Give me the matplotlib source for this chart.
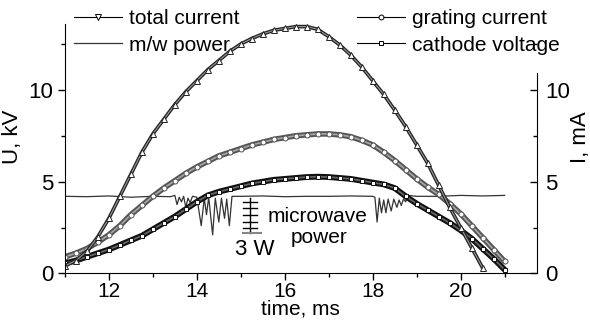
import numpy as np
import matplotlib
matplotlib.use('Agg')
import matplotlib.pyplot as plt
from matplotlib.ticker import MultipleLocator
from matplotlib.lines import Line2D

plt.rcParams['font.family'] = ['Liberation Sans', 'DejaVu Sans']

# total current (triangles), mA
t_total = [11.0, 11.25, 11.5, 11.75, 12.0, 12.25, 12.5, 12.75, 13.0, 13.25,
           13.5, 13.75, 14.0, 14.25, 14.5, 14.75, 15.0, 15.25, 15.5, 15.75,
           16.0, 16.25, 16.5, 16.75, 17.0, 17.25, 17.5, 17.75, 18.0, 18.25,
           18.5, 18.75, 19.0, 19.25, 19.5, 19.75, 20.0, 20.25, 20.5]
total_current = [0.4, 0.7, 1.2, 2.0, 3.0, 4.2, 5.4, 6.6, 7.6, 8.4,
                 9.2, 9.9, 10.5, 11.1, 11.6, 12.1, 12.5, 12.8, 13.05, 13.25,
                 13.35, 13.45, 13.45, 13.3, 12.9, 12.45, 11.9, 11.25, 10.5, 9.75,
                 8.9, 8.0, 7.0, 6.0, 4.8, 3.6, 2.5, 1.4, 0.3]

# grating current (circles) and cathode voltage (squares)
t_main = [11.0, 11.25, 11.5, 11.75, 12.0, 12.25, 12.5, 12.75, 13.0, 13.25,
          13.5, 13.75, 14.0, 14.25, 14.5, 14.75, 15.0, 15.25, 15.5, 15.75,
          16.0, 16.25, 16.5, 16.75, 17.0, 17.25, 17.5, 17.75, 18.0, 18.25,
          18.5, 18.75, 19.0, 19.25, 19.5, 19.75, 20.0, 20.25, 20.5, 20.75, 21.0]
grating_current = [0.9, 1.1, 1.35, 1.7, 2.1, 2.6, 3.2, 3.7, 4.2, 4.65,
                   5.05, 5.45, 5.8, 6.1, 6.4, 6.6, 6.8, 7.0, 7.15, 7.3,
                   7.4, 7.5, 7.55, 7.6, 7.6, 7.55, 7.45, 7.25, 7.0, 6.6,
                   6.15, 5.65, 5.15, 4.7, 4.3, 3.8, 3.25, 2.6, 1.95, 1.3, 0.65]
cathode_voltage = [0.55, 0.7, 0.9, 1.1, 1.3, 1.55, 1.8, 2.05, 2.4, 2.75,
                   3.1, 3.5, 3.9, 4.25, 4.45, 4.6, 4.75, 4.9, 5.0, 5.1,
                   5.15, 5.2, 5.25, 5.27, 5.25, 5.2, 5.15, 5.05, 4.95, 4.85,
                   4.65, 4.2, 3.8, 3.45, 3.1, 2.75, 2.35, 1.9, 1.35, 0.8, 0.2]

# microwave power trace (arbitrary offset)
t_mw = [11.0, 11.5, 12.0, 12.5, 13.0, 13.4, 13.5, 13.55, 13.6, 13.65, 13.7,
        13.75, 13.8, 13.85, 13.9, 14.0, 14.1, 14.17, 14.22, 14.27, 14.36,
        14.42, 14.5, 14.56, 14.63, 14.68, 14.74, 14.8, 15.0, 15.5, 16.0,
        16.5, 17.0, 17.5, 18.0, 18.05, 18.1, 18.15, 18.2, 18.25, 18.3,
        18.35, 18.42, 18.48, 18.55, 18.6, 18.65, 18.7, 18.75, 18.8, 19.0,
        19.5, 20.0, 20.5, 21.0]
mw_power = [4.2, 4.18, 4.22, 4.15, 4.2, 4.18, 4.25, 3.75, 4.15, 3.9, 4.2,
            3.6, 4.1, 3.85, 4.2, 4.15, 2.6, 4.1, 3.2, 4.15, 2.1,
            4.1, 2.8, 4.1, 3.0, 4.05, 2.6, 4.2, 4.2, 4.22, 4.18,
            4.2, 4.2, 4.22, 4.2, 4.15, 2.8, 4.1, 3.3, 4.0, 3.3,
            4.05, 3.4, 4.05, 3.6, 4.0, 3.7, 4.05, 3.9, 4.25, 4.2,
            4.2, 4.25, 4.22, 4.25]

# "3 W" scale bar
bar_x = 15.2
bar_top, bar_bottom = 4.1, 2.2
bar_ticks = [3.9, 3.57, 3.18, 2.8, 2.48]

fig = plt.figure(figsize=(5.9, 3.22), dpi=100)
ax = fig.add_axes([0.110, 0.151, 0.7997, 0.849])

ax.plot(t_mw, mw_power, color='#333333', lw=0.9)


def band(x, y, edge, inner, width, marker, ms):
    # dense overlapping hollow markers look like a thick band with a lighter core
    ax.plot(x, y, color=edge, lw=width, solid_capstyle='round', solid_joinstyle='round')
    ax.plot(x, y, color=inner, lw=width * 0.3, solid_joinstyle='round')
    ax.plot(x, y, ls='none', marker=marker, ms=ms, mfc='white', mec=edge, mew=0.7)


band(t_main, grating_current, '#555555', '#a8a8a8', 4.0, 'o', 3.6)
band(t_main, cathode_voltage, '#111111', '#666666', 4.2, 's', 3.2)
band(t_total, total_current, '#222222', '#9a9a9a', 2.6, '^', 3.8)

# scale bar
ax.plot([bar_x, bar_x], [bar_top, bar_bottom], color='black', lw=1)
for yt in bar_ticks:
    ax.plot([bar_x - 0.16, bar_x + 0.16], [yt, yt], color='black', lw=1)
ax.plot([bar_x - 0.16, bar_x + 0.27], [bar_bottom, bar_bottom], color='#888888', lw=1.5)

ax.text(15.31, 1.28, '3 W', fontsize=16, ha='center', va='center')
ax.text(16.74, 3.08, 'microwave', fontsize=15, ha='center', va='center')
ax.text(16.79, 1.93, 'power', fontsize=15, ha='center', va='center')

ax.set_xlim(11, 21.73)
ax.set_ylim(0, 14.9)
ax.spines['top'].set_visible(False)
ax.spines['right'].set_visible(False)
ax.spines['left'].set_bounds(0, 13.6)
ax.xaxis.set_major_locator(MultipleLocator(2))
ax.xaxis.set_minor_locator(MultipleLocator(1))
ax.yaxis.set_major_locator(MultipleLocator(5))
ax.yaxis.set_minor_locator(MultipleLocator(2.5))
ax.tick_params(which='major', direction='out', length=5, width=1, labelsize=16)
ax.tick_params(axis='x', which='major', pad=1, labelsize=15)
ax.tick_params(which='minor', direction='out', length=3, width=1)
ax.set_xlabel('time, ms', fontsize=15, labelpad=-1)
ax.set_ylabel('U, kV', fontsize=16, labelpad=4)

ax2 = ax.twinx()
ax2.set_ylim(0, 14.9)
for s in ['top', 'left', 'bottom']:
    ax2.spines[s].set_visible(False)
ax2.spines['right'].set_bounds(0, 10.9)
ax2.yaxis.set_minor_locator(MultipleLocator(2.5))
ax2.set_yticks([0, 5, 10])
ax2.tick_params(which='major', direction='in', length=5, width=1, labelsize=16, pad=6)
ax2.tick_params(which='minor', direction='in', length=3, width=1)
ax2.set_ylabel('I, mA', fontsize=16, labelpad=0)

h_total = Line2D([], [], color='black', lw=0.8, marker='v', ms=4, mfc='white', mew=0.7)
h_mw = Line2D([], [], color='#333333', lw=0.9)
h_grat = Line2D([], [], color='black', lw=0.8, marker='o', ms=3.5, mfc='white', mew=0.7)
h_cath = Line2D([], [], color='black', lw=0.8, marker='s', ms=3.2, mfc='white', mew=0.7)

fig.legend([h_total, h_mw], ['total current', 'm/w power'],
           loc='upper left', bbox_to_anchor=(0.104, 1.01), frameon=False,
           fontsize=15, borderpad=0.1, handlelength=2.3, handletextpad=0.35,
           labelspacing=0.35)
fig.legend([h_grat, h_cath], ['grating current', 'cathode voltage'],
           loc='upper left', bbox_to_anchor=(0.584, 1.01), frameon=False,
           fontsize=15, borderpad=0.1, handlelength=2.3, handletextpad=0.35,
           labelspacing=0.35)

fig.savefig('out.png', dpi=100)
